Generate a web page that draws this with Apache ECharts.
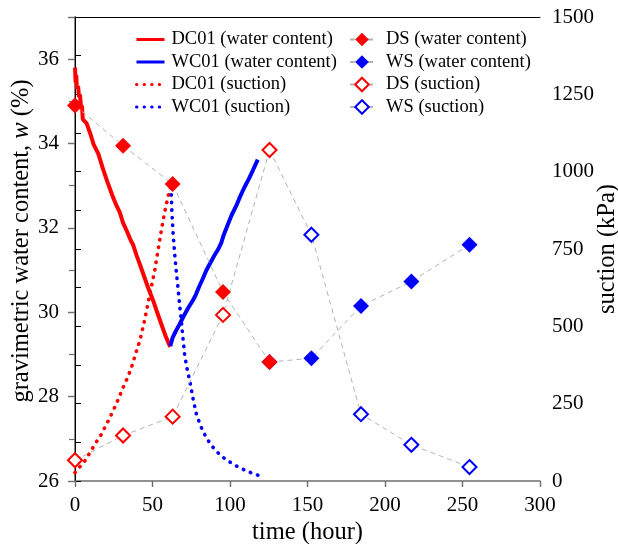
<!DOCTYPE html>
<html>
<head>
<meta charset="utf-8">
<script src="https://cdn.jsdelivr.net/npm/echarts@6/dist/echarts.min.js"></script>
<style>
  html, body { margin: 0; padding: 0; background: #fff; }
  #chart { width: 618px; height: 544px; }
</style>
</head>
<body>
<div id="chart"></div>
<script>
// Continuous sensor records: [time (hour), value]
const dc01Water = [
  [0, 35.8], [0.4, 35.45], [0.8, 35.62], [1.2, 35.3], [2, 35.36], [2.6, 35.1],
  [3.2, 35.16], [4, 34.82], [4.5, 34.9], [5, 34.58], [6, 34.62], [7.5, 34.48],
  [10, 34.22], [12, 33.98], [15, 33.76], [18.2, 33.38], [21, 33.08], [24, 32.78],
  [26.5, 32.55], [28.9, 32.37], [31, 32.12], [33.5, 31.92], [36, 31.7], [37.5, 31.6],
  [39.6, 31.36], [42, 31.12], [44.5, 30.86], [47, 30.6], [50.4, 30.28], [53, 30.0],
  [55.5, 29.74], [58, 29.48], [60, 29.3], [61.5, 29.18]
];
const wc01Water = [
  [61.5, 29.2], [63, 29.4], [65, 29.55], [67.5, 29.72], [70, 29.9], [73, 30.1],
  [76, 30.28], [78, 30.42], [80, 30.6], [82.5, 30.8], [84.7, 30.99], [87, 31.15],
  [90, 31.35], [92, 31.47], [94.3, 31.64], [96, 31.84], [98.6, 32.08], [101, 32.3],
  [104, 32.52], [106, 32.7], [109, 32.94], [112, 33.15], [114.7, 33.36], [117.9, 33.62]
];
const dc01Suction = [
  [0, 27], [3, 45], [6.4, 65], [10, 95], [13, 120], [17, 151], [21, 190],
  [24.6, 227], [28, 265], [31, 302], [34, 335], [36.4, 367], [39, 410],
  [41.8, 453], [44.5, 510], [47, 572], [49, 620], [51.4, 680], [53.5, 745],
  [55.7, 810], [57.5, 860], [59, 896], [61, 939], [62, 950]
];
const wc01Suction = [
  [62, 950], [62.5, 870], [63.3, 800], [64.3, 734], [65.3, 680], [66.4, 626],
  [67.5, 570], [68.6, 518], [69.6, 465], [70.7, 410], [72.2, 365], [74, 324],
  [76, 270], [78.3, 216], [81.3, 175], [84.7, 140], [88.5, 112], [93.2, 86],
  [98, 67], [104, 49], [110, 34], [115, 24], [118, 19]
];

// Discrete specimen measurements
const dsTime = [0, 31, 63, 95.5, 125.5];
const dsWater = [34.9, 33.95, 33.04, 30.48, 28.82];
const dsSuction = [67, 147, 208, 537, 1070];
const wsTime = [125.5, 152.5, 184.5, 217, 254.5];
const wsWater = [28.82, 28.91, 30.15, 30.73, 31.6];
const wsSuction = [1070, 796, 216, 117, 45];

// Axis ticks
const xTicks = { min: 0, max: 300, step: 50 };
const wTicks = { min: 26, max: 37, step: 2 };
const sTicks = { min: 0, max: 1500, step: 250 };

const pair = (xs, ys) => xs.map((x, i) => [x, ys[i]]);

const FONT = "'Liberation Serif', 'Times New Roman', serif";
const RED = '#ff0000';
const BLUE = '#0000ff';
const GREY = '#b4b4b4';
const AXIS_GREY = '#6e6e6e';
const NAME_SIZE = 24.5;
const TICK_SIZE = 21;
const LEGEND_SIZE = 18.5;

const dashed = { color: GREY, width: 1, type: [5, 4] };
const dotted = (c) => ({ color: c, width: 3.6, type: [0.4, 7.2], cap: 'round' });
const plain = (v) => String(v);

const chart = echarts.init(document.getElementById('chart'), null, { renderer: 'canvas' });

chart.setOption({
  animation: false,
  backgroundColor: '#fff',
  grid: { left: 75, right: 78, top: 17, bottom: 63, containLabel: false, outerBoundsMode: 'none' },
  textStyle: { fontFamily: FONT },
  legend: [
    {
      left: 130, top: 25, orient: 'vertical',
      itemWidth: 28, itemHeight: 14, itemGap: 3.5,
      itemStyle: { opacity: 0 },
      lineStyle: { width: 3 },
      textStyle: { fontFamily: FONT, fontSize: LEGEND_SIZE, color: '#000', padding: [0, 0, 0, 2] },
      data: ['DC01 (water content)', 'WC01 (water content)', 'DC01 (suction)', 'WC01 (suction)']
    },
    {
      left: 344, top: 25, orient: 'vertical',
      itemWidth: 24, itemHeight: 17, itemGap: 3.5,
      textStyle: { fontFamily: FONT, fontSize: LEGEND_SIZE, color: '#000', padding: [0, 0, 0, 7] },
      data: ['DS (water content)', 'WS (water content)', 'DS (suction)', 'WS (suction)']
    }
  ],
  xAxis: [
    {
      type: 'value', position: 'bottom',
      min: xTicks.min, max: xTicks.max, interval: xTicks.step,
      name: 'time (hour)', nameLocation: 'middle', nameGap: 39, nameMoveOverlap: false,
      nameTextStyle: { fontFamily: FONT, fontSize: NAME_SIZE, color: '#000' },
      axisLine: { show: true, lineStyle: { color: AXIS_GREY, width: 1.6 } },
      axisTick: { show: true, length: 6, lineStyle: { color: AXIS_GREY, width: 1.4 } },
      axisLabel: { fontFamily: FONT, fontSize: TICK_SIZE, color: '#000', margin: 14, formatter: plain },
      splitLine: { show: false }
    },
    {
      // top frame line
      type: 'value', position: 'top',
      min: xTicks.min, max: xTicks.max,
      axisLine: { show: true, lineStyle: { color: '#000', width: 1 } },
      axisTick: { show: false }, axisLabel: { show: false }, splitLine: { show: false }
    }
  ],
  yAxis: [
    {
      type: 'value', position: 'left',
      min: wTicks.min, max: wTicks.max, interval: wTicks.step,
      name: '{a|gravimetric water content, }{i|w}{a| (%)}',
      nameLocation: 'middle', nameRotate: 90, nameGap: 41, nameMoveOverlap: false,
      nameTextStyle: {
        padding: [0, 0, 0, 16],
        rich: {
          a: { fontFamily: FONT, fontSize: NAME_SIZE, color: '#000' },
          i: { fontFamily: FONT, fontSize: NAME_SIZE, color: '#000', fontStyle: 'italic' }
        }
      },
      axisLine: { show: true, lineStyle: { color: AXIS_GREY, width: 1.6 } },
      axisTick: { show: true, length: 7, lineStyle: { color: AXIS_GREY, width: 1.4 } },
      minorTick: { show: true, splitNumber: 2, length: 6, lineStyle: { color: AXIS_GREY, width: 1.2 } },
      axisLabel: { fontFamily: FONT, fontSize: TICK_SIZE, color: '#000', margin: 16, showMaxLabel: false, formatter: plain },
      splitLine: { show: false }, minorSplitLine: { show: false }
    },
    {
      type: 'value', position: 'right',
      min: sTicks.min, max: sTicks.max, interval: sTicks.step,
      name: 'suction (kPa)', nameLocation: 'middle', nameRotate: 90, nameGap: 55, nameMoveOverlap: false,
      nameTextStyle: { fontFamily: FONT, fontSize: NAME_SIZE, color: '#000' },
      axisLine: { show: true, lineStyle: { color: '#000', width: 1 } },
      axisTick: { show: true, length: 6, lineStyle: { color: '#000', width: 1 } },
      minorTick: { show: true, splitNumber: 2, length: 6, lineStyle: { color: '#000', width: 1 } },
      axisLabel: { fontFamily: FONT, fontSize: TICK_SIZE, color: '#000', margin: 12, formatter: plain },
      splitLine: { show: false }, minorSplitLine: { show: false }
    }
  ],
  series: [
    {
      name: 'DC01 (water content)', type: 'line', yAxisIndex: 0, z: 3,
      data: dc01Water, symbol: 'none', showSymbol: false,
      lineStyle: { color: RED, width: 4 }, itemStyle: { color: RED }
    },
    {
      name: 'WC01 (water content)', type: 'line', yAxisIndex: 0, z: 3,
      data: wc01Water, symbol: 'none', showSymbol: false,
      lineStyle: { color: BLUE, width: 4 }, itemStyle: { color: BLUE }
    },
    {
      name: 'DC01 (suction)', type: 'line', yAxisIndex: 1, z: 3,
      data: dc01Suction, symbol: 'none', showSymbol: false,
      lineStyle: dotted(RED), itemStyle: { color: RED }
    },
    {
      name: 'WC01 (suction)', type: 'line', yAxisIndex: 1, z: 3,
      data: wc01Suction, symbol: 'none', showSymbol: false,
      lineStyle: dotted(BLUE), itemStyle: { color: BLUE }
    },
    {
      name: 'WS (water content)', type: 'line', yAxisIndex: 0, z: 4,
      data: pair(wsTime, wsWater), symbol: 'diamond', symbolSize: 16,
      lineStyle: dashed, itemStyle: { color: BLUE }
    },
    {
      name: 'DS (water content)', type: 'line', yAxisIndex: 0, z: 5,
      data: pair(dsTime, dsWater), symbol: 'diamond', symbolSize: 16,
      lineStyle: dashed, itemStyle: { color: RED }
    },
    {
      name: 'WS (suction)', type: 'line', yAxisIndex: 1, z: 4,
      data: pair(wsTime, wsSuction), symbol: 'emptyDiamond',
      symbolSize: (v, p) => (p.dataIndex === 0 ? 9 : 14),
      lineStyle: dashed, itemStyle: { color: BLUE, borderColor: BLUE, borderWidth: 2 }
    },
    {
      name: 'DS (suction)', type: 'line', yAxisIndex: 1, z: 5,
      data: pair(dsTime, dsSuction), symbol: 'emptyDiamond', symbolSize: 14,
      lineStyle: dashed, itemStyle: { color: RED, borderColor: RED, borderWidth: 2 }
    }
  ]
});
</script>
</body>
</html>
